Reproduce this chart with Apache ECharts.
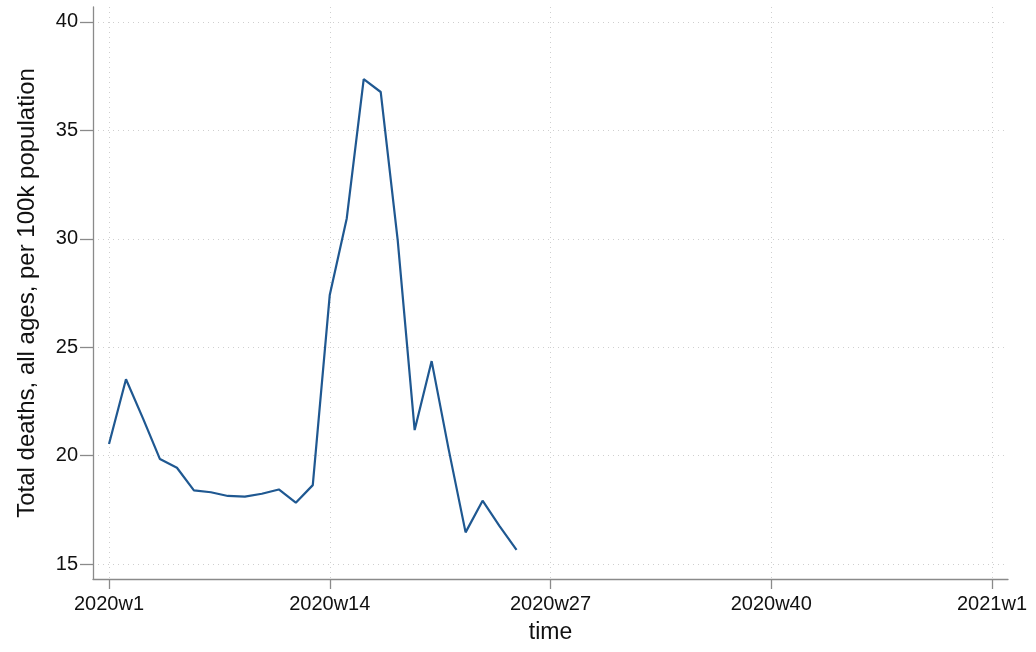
<!DOCTYPE html>
<html>
<head>
<meta charset="utf-8">
<script src="https://cdn.jsdelivr.net/npm/echarts@6/dist/echarts.min.js"></script>
<style>
html,body{margin:0;padding:0;background:#fff;}
#chart{width:1036px;height:652px;}
</style>
</head>
<body>
<div id="chart"></div>
<script>
// Weeks 2020w1..2020w25 (index 0 = 2020w1)
const weekIndex = [0,1,2,3,4,5,6,7,8,9,10,11,12,13,14,15,16,17,18,19,20,21,22,23,24];
const deaths = [20.54,23.52,21.72,19.84,19.44,18.40,18.31,18.14,18.11,18.24,18.44,17.83,18.64,27.41,30.94,37.36,36.77,29.95,21.18,24.36,20.30,16.46,17.92,16.75,15.65];
const xTickValues = [0,13,26,39,52];
const xTickLabels = ['2020w1','2020w14','2020w27','2020w40','2021w1'];
const yTickValues = [15,20,25,30,35,40];

const font = 'Liberation Sans, Arial, Helvetica, sans-serif';
const axisColor = '#8a8a8a';
const chart = echarts.init(document.getElementById('chart'));
chart.setOption({
  animation:false,
  backgroundColor:'#ffffff',
  grid:{left:93,right:28,top:7,bottom:73,containLabel:false},
  xAxis:{
    type:'value', min:-0.943, max:52.943,
    name:'time', nameLocation:'middle', nameGap:42,
    nameTextStyle:{fontFamily:font,fontSize:23,color:'#111'},
    axisLine:{show:true,onZero:false,lineStyle:{color:axisColor,width:1.3}},
    axisTick:{show:true,length:10,customValues:xTickValues,lineStyle:{color:axisColor,width:1.3}},
    axisLabel:{customValues:xTickValues,margin:15,fontFamily:font,fontSize:20,color:'#111',
      formatter:function(v){const i=xTickValues.indexOf(Math.round(v));return i>=0?xTickLabels[i]:'';}},
    splitLine:{show:true,lineStyle:{color:'#cfcfcf',type:[1,4],width:1}}
  },
  yAxis:{
    type:'value', min:14.31, max:40.69,
    name:'Total deaths, all ages, per 100k population', nameLocation:'middle', nameGap:54, nameRotate:90,
    nameTextStyle:{fontFamily:font,fontSize:24,color:'#111'},
    axisLine:{show:true,onZero:false,lineStyle:{color:axisColor,width:1.3}},
    axisTick:{show:true,length:13,customValues:yTickValues,lineStyle:{color:axisColor,width:1.3}},
    axisLabel:{customValues:yTickValues,margin:15,fontFamily:font,fontSize:20,color:'#111'},
    splitLine:{show:true,lineStyle:{color:'#cfcfcf',type:[1,4],width:1}}
  },
  series:[{
    type:'line',
    data:weekIndex.map((w,i)=>[w,deaths[i]]),
    showSymbol:false,
    lineStyle:{color:'#1f5891',width:2.2},
    itemStyle:{color:'#1f5891'}
  }]
});
</script>
</body>
</html>
